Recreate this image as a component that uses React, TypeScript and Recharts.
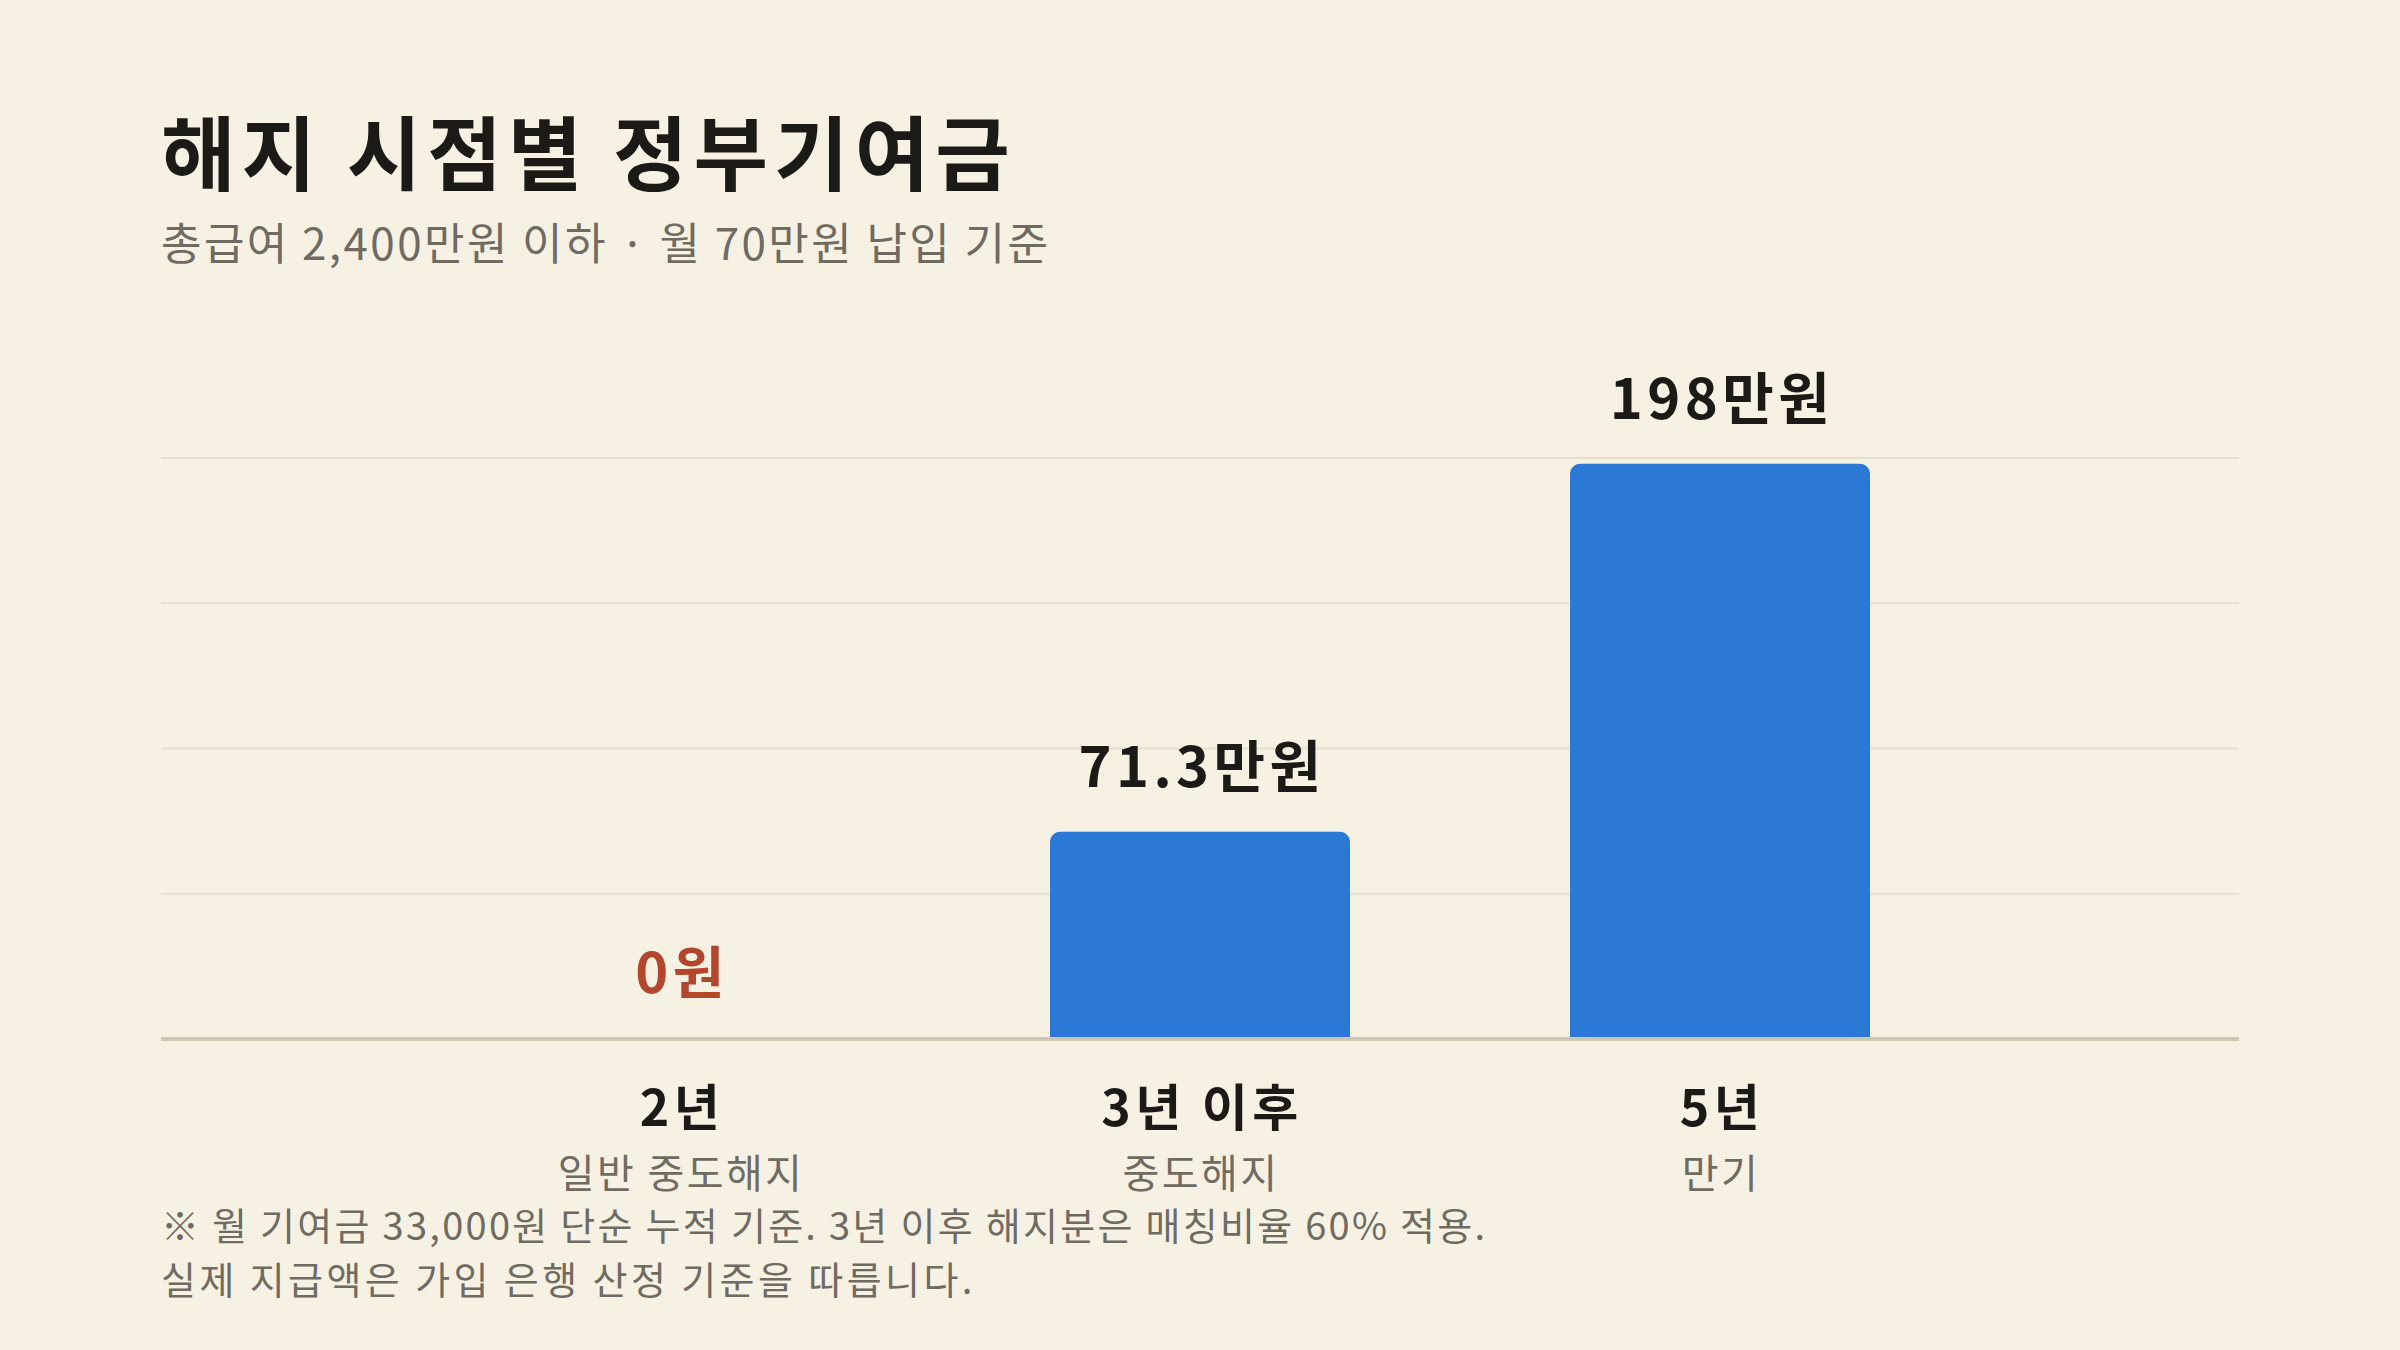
import { BarChart, Bar, XAxis, YAxis, CartesianGrid, LabelList, Cell } from "recharts";

const periods = ["2년", "3년 이후", "5년"];
const periodNotes = ["일반 중도해지", "중도해지", "만기"];
const contributions = [0, 71.3, 198];
const valueLabels = ["0원", "71.3만원", "198만원"];
const yTicks = [0, 50, 100, 150, 200];

const data = periods.map((p, i) => ({
  period: p,
  note: periodNotes[i],
  amount: contributions[i],
  label: valueLabels[i],
}));

const FONT = '"Noto Sans CJK KR", "Noto Sans", sans-serif';
const BG = "#f7f1e4";
const INK = "#1c1a17";
const GRAY = "#6f6b62";
const BLUE = "#2b78d6";
const RED = "#b3462c";

const PeriodTick = (props: any) => {
  const { x, y, payload, index } = props;
  return (
    <g>
      <text x={x + 2} y={y + 87} textAnchor="middle" fontFamily={FONT} fontSize={50} fontWeight={700} letterSpacing="0.09em" fill={INK}>
        {payload.value}
      </text>
      <text x={x + 1} y={y + 149} textAnchor="middle" fontFamily={FONT} fontSize={40} letterSpacing="0.06em" fill={GRAY}>
        {periodNotes[index]}
      </text>
    </g>
  );
};

const ValueLabel = (props: any) => {
  const { x, y, width, index, value } = props;
  const v = contributions[index];
  return (
    <text
      x={x + width / 2 + 2}
      y={y - 45}
      textAnchor="middle"
      fontFamily={FONT}
      fontSize={56}
      fontWeight={700}
      letterSpacing="0.08em"
      fill={v === 0 ? RED : INK}
    >
      {value}
    </text>
  );
};

export default function App() {
  return (
    <div style={{ position: "relative", width: 2400, height: 1350, background: BG, overflow: "hidden" }}>
      <style>{`body{margin:0}`}</style>
      <svg width={2400} height={1350} style={{ position: "absolute", left: 0, top: 0 }}>
        <text x={161} y={184} fontFamily={FONT} fontSize={81} fontWeight={700} letterSpacing="0.075em" fill={INK}>
          해지 시점별 정부기여금
        </text>
        <text x={161} y={260} fontFamily={FONT} fontSize={44} letterSpacing="0.055em" fill={GRAY}>
          총급여 2,400만원 이하 · 월 70만원 납입 기준
        </text>
        <text x={161} y={1240} fontFamily={FONT} fontSize={38} letterSpacing="0.06em" fill={GRAY}>
          ※ 월 기여금 33,000원 단순 누적 기준. 3년 이후 해지분은 매칭비율 60% 적용.
        </text>
        <text x={161} y={1294} fontFamily={FONT} fontSize={38} letterSpacing="0.09em" fill={GRAY}>
          실제 지급액은 가입 은행 산정 기준을 따릅니다.
        </text>
      </svg>
      <div style={{ position: "absolute", left: 0, top: 300 }}>
        <BarChart width={2400} height={899} data={data} margin={{ top: 158, right: 161, bottom: 0, left: 161 }}>
          <CartesianGrid vertical={false} stroke="#e6e0d1" strokeWidth={2} />
          <YAxis hide domain={[0, 200]} ticks={yTicks} />
          <XAxis
            dataKey="period"
            height={160}
            padding={{ left: 259, right: 259 }}
            tickLine={false}
            tickSize={0}
            tickMargin={0}
            axisLine={{ stroke: "#cdc6b1", strokeWidth: 4 }}
            tick={<PeriodTick />}
            interval={0}
          />
          <Bar dataKey="amount" barSize={300} minPointSize={1} radius={[10, 10, 0, 0]} isAnimationActive={false}>
            {data.map((d) => (
              <Cell key={d.period} fill={d.amount === 0 ? "transparent" : BLUE} />
            ))}
            <LabelList dataKey="label" content={<ValueLabel />} />
          </Bar>
        </BarChart>
      </div>
    </div>
  );
}
